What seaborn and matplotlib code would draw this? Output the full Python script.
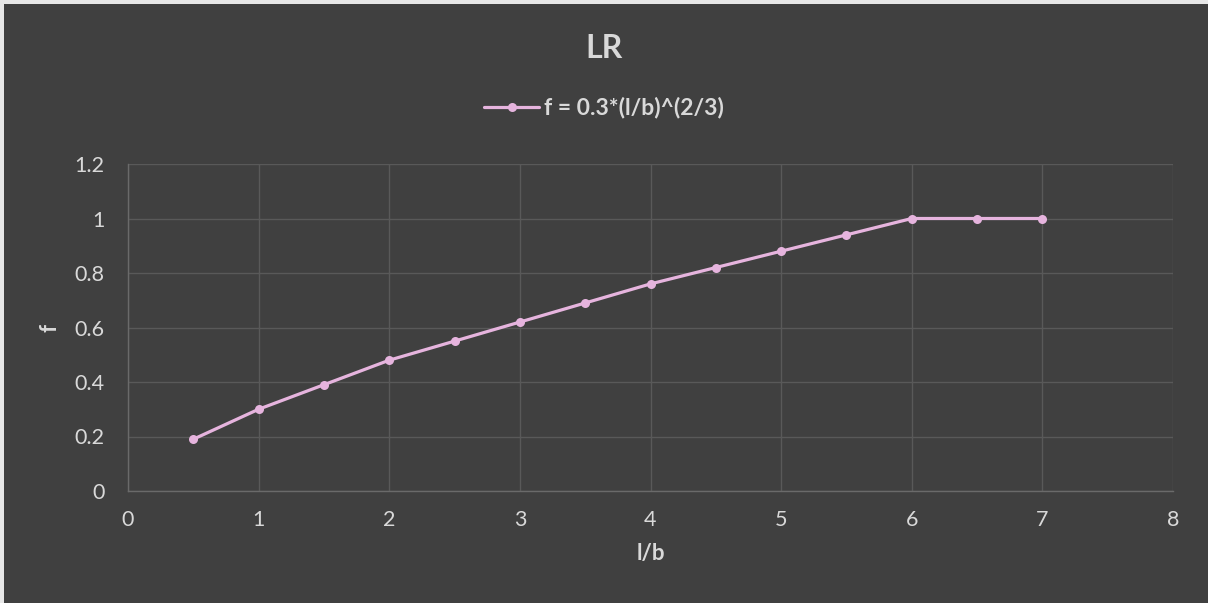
import matplotlib
matplotlib.use("Agg")
import matplotlib.pyplot as plt
from matplotlib.patches import Rectangle
import seaborn as sns
import pandas as pd

# Ratio l/b and the reduction factor f = 0.3*(l/b)^(2/3), capped at 1
l_over_b = [0.5, 1.0, 1.5, 2.0, 2.5, 3.0, 3.5, 4.0, 4.5, 5.0, 5.5, 6.0, 6.5, 7.0]
f_values = [0.19, 0.30, 0.39, 0.48, 0.55, 0.62, 0.69, 0.76, 0.82, 0.88, 0.94, 1.0, 1.0, 1.0]
series_name = "f = 0.3*(l/b)^(2/3)"
x_ticks = [0, 1, 2, 3, 4, 5, 6, 7, 8]
y_ticks = [0, 0.2, 0.4, 0.6, 0.8, 1.0, 1.2]
y_tick_labels = ["0", "0.2", "0.4", "0.6", "0.8", "1", "1.2"]

df = pd.DataFrame({"l/b": l_over_b, "f": f_values, "series": series_name})

BG = "#404040"
GRID = "#595959"
TEXT = "#d9d9d9"
LINE = "#e6b4de"

sns.set_theme(style="darkgrid")
plt.rcParams["font.family"] = ["Lato", "DejaVu Sans"]

fig = plt.figure(figsize=(12.08, 6.03), dpi=100, facecolor=BG)
ax = fig.add_axes([128 / 1208, 112 / 603, (1173 - 128) / 1208, (491 - 164) / 603])
ax.set_facecolor(BG)

sns.lineplot(data=df, x="l/b", y="f", hue="series", palette=[LINE],
             marker="o", markersize=6.5, markeredgewidth=0, linewidth=2.3,
             ax=ax, legend=False)

ax.set_xlim(0, 8)
ax.set_ylim(0, 1.2)
ax.set_xticks(x_ticks)
ax.set_yticks(y_ticks)
ax.set_yticklabels(y_tick_labels)
ax.grid(True, color=GRID, linewidth=1.0)
ax.tick_params(axis="both", colors=TEXT, labelsize=15.5, length=0)
ax.tick_params(axis="x", pad=14)
ax.tick_params(axis="y", pad=17)
for side in ["top", "right"]:
    ax.spines[side].set_visible(False)
for side in ["left", "bottom"]:
    ax.spines[side].set_visible(True)
    ax.spines[side].set_color("#6a6a6a")
    ax.spines[side].set_linewidth(1.0)

ax.set_xlabel("l/b", color=TEXT, fontsize=16, fontweight="bold", labelpad=9)
ax.set_ylabel("f", color=TEXT, fontsize=16, fontweight="bold", labelpad=10)

fig.text(0.5, 1 - 48 / 603, "LR", ha="center", va="center",
         color=TEXT, fontsize=23, fontweight="bold")

# Legend entry above the plot
handle = plt.Line2D([], [], color=LINE, linewidth=2.3, marker="o",
                    markersize=6.5, markeredgewidth=0)
leg = fig.legend([handle], [series_name], loc="center",
                 bbox_to_anchor=(0.5, 1 - 108 / 603), frameon=False,
                 handlelength=2.4, handletextpad=0.2,
                 prop={"size": 16.5, "weight": "bold"})
for t in leg.get_texts():
    t.set_color(TEXT)

# Thin light frame strips along the top and left edges
fig.patches.append(Rectangle((0, 0), 4 / 1208, 1, transform=fig.transFigure,
                             facecolor="#e8e8e8", edgecolor="none", zorder=5))
fig.patches.append(Rectangle((0, 1 - 4 / 603), 1, 4 / 603, transform=fig.transFigure,
                             facecolor="#e8e8e8", edgecolor="none", zorder=5))

fig.savefig("out.png", dpi=100, facecolor=BG)
